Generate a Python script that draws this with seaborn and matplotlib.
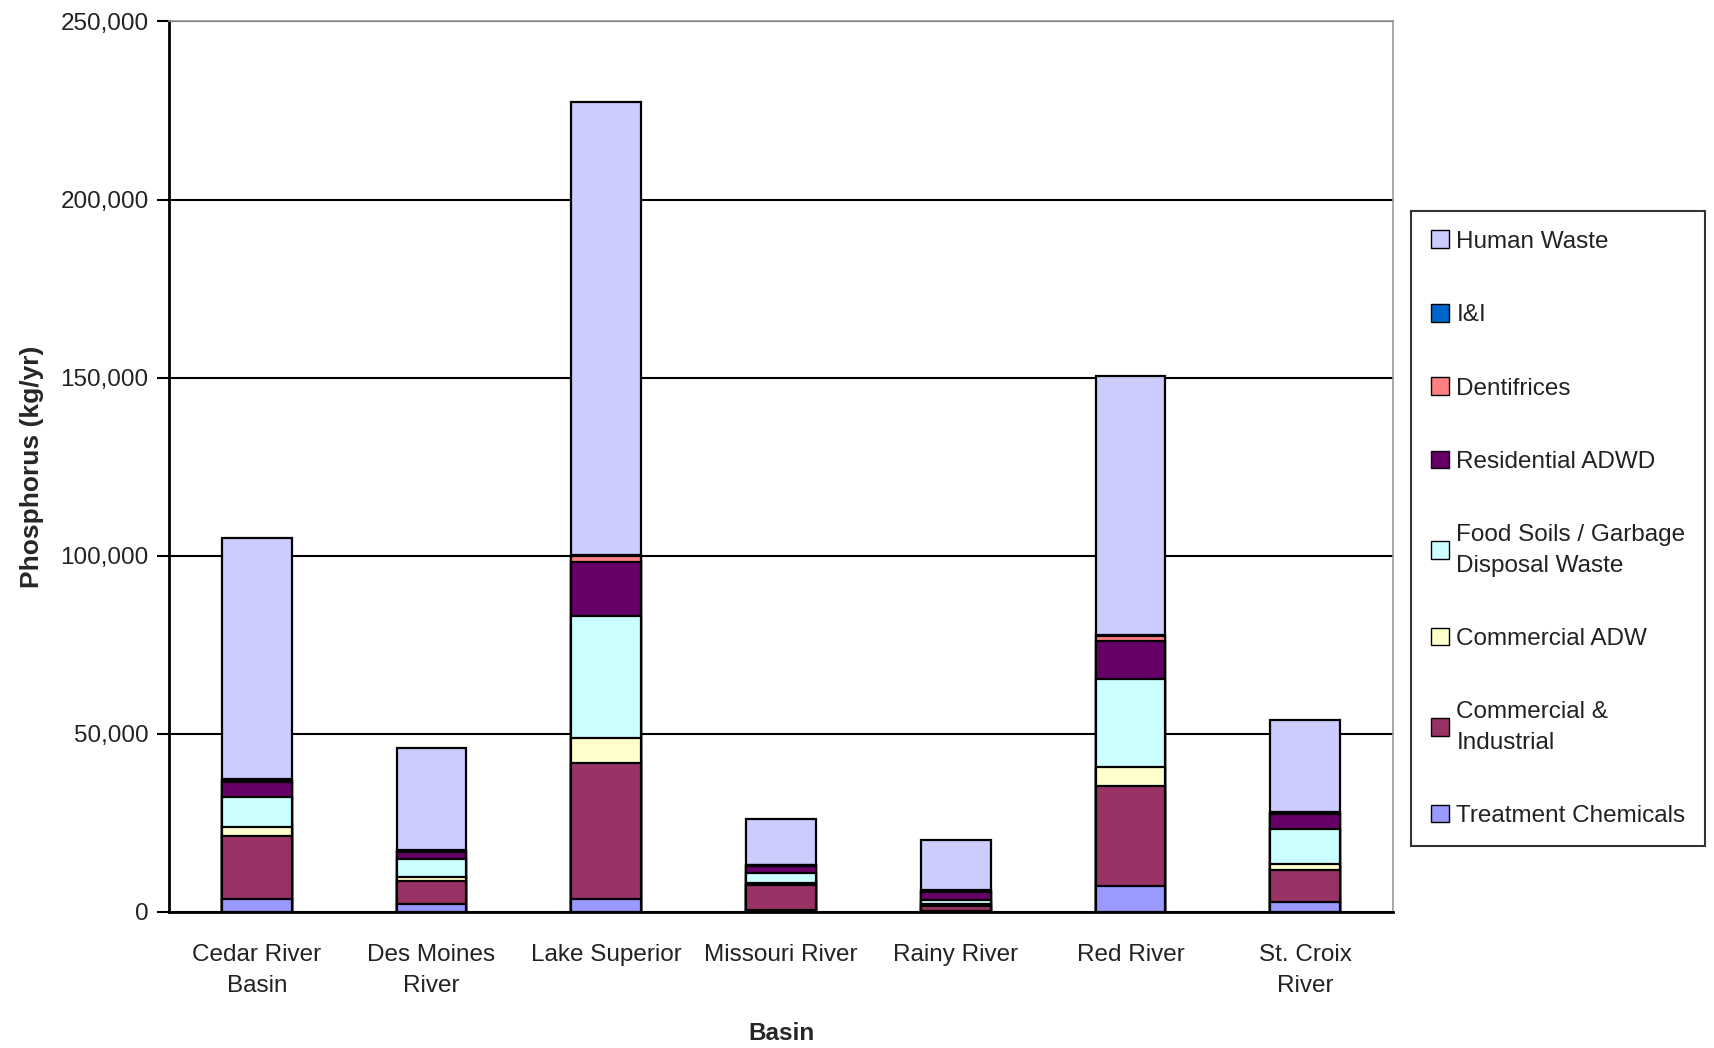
import numpy as np
import pandas as pd
import matplotlib
matplotlib.use("Agg")
import matplotlib.pyplot as plt
from matplotlib.patches import Patch
import seaborn as sns

# Basins (x categories) and their tick labels
basins = ["Cedar River Basin", "Des Moines River", "Lake Superior", "Missouri River",
          "Rainy River", "Red River", "St. Croix River"]
tick_labels = ["Cedar River\nBasin", "Des Moines\nRiver", "Lake Superior", "Missouri River",
               "Rainy River", "Red River", "St. Croix\nRiver"]

# Phosphorus loads by source (kg/yr), listed bottom of stack to top
treatment_chemicals = [3600, 2300, 3700, 500, 400, 7300, 2900]
commercial_industrial = [17800, 6300, 38200, 7200, 1300, 28200, 8800]
commercial_adw = [2500, 1100, 6900, 500, 400, 5100, 1900]
food_soils = [8500, 5300, 34300, 2700, 1400, 24900, 9600]
residential_adwd = [4200, 1800, 15200, 2000, 2200, 10500, 4200]
dentifrices = [300, 300, 1500, 200, 200, 1600, 300]
i_and_i = [300, 400, 300, 200, 300, 200, 300]
human_waste = [67700, 28400, 127200, 12900, 13900, 72700, 26000]

sources = ["Treatment Chemicals", "Commercial &\nIndustrial", "Commercial ADW",
           "Food Soils / Garbage\nDisposal Waste", "Residential ADWD", "Dentifrices",
           "I&I", "Human Waste"]
colors = ["#9999FF", "#993366", "#FFFFCC", "#CCFFFF", "#660066", "#FF8080",
          "#0066CC", "#CCCCFF"]
values = [treatment_chemicals, commercial_industrial, commercial_adw, food_soils,
          residential_adwd, dentifrices, i_and_i, human_waste]

df = pd.DataFrame({"Basin": basins})
for name, vals in zip(sources, values):
    df[name] = vals
cum = df[sources].cumsum(axis=1)

sns.set_theme(style="white")
plt.rcParams["font.family"] = ["Liberation Sans", "DejaVu Sans"]
FS = 17.5

fig, ax = plt.subplots(figsize=(17.15, 10.48), dpi=100)
fig.subplots_adjust(left=0.0988, right=0.812, top=0.9795, bottom=0.1298)

# Stacked bars: draw cumulative totals from the top layer down
for name, col in reversed(list(zip(sources, colors))):
    sns.barplot(x=df["Basin"], y=cum[name], order=basins, color=col, width=0.40,
                edgecolor="black", linewidth=1.6, saturation=1, ax=ax, zorder=3)

ax.set_ylim(0, 250000)
ax.set_xlim(-0.5, 6.5)
ax.set_yticks(np.arange(0, 250001, 50000))
ax.set_yticklabels([f"{v:,}" for v in range(0, 250001, 50000)], fontsize=FS,
                   color="#222222")
ax.yaxis.grid(True, color="black", linewidth=1.5, zorder=0)
ax.set_axisbelow(True)

ax.set_xticks(range(len(basins)))
ax.set_xticklabels(tick_labels, fontsize=FS, linespacing=1.55, color="#222222")
ax.set_xticks(np.arange(-0.5, 7.0, 1.0), minor=True)
ax.tick_params(axis="x", which="major", length=0, pad=23)
ax.tick_params(axis="x", which="minor", length=11, width=1.5, color="black", direction="out")
ax.tick_params(axis="y", which="major", length=9, width=1.5, color="black",
               direction="out", left=True, pad=6)

for side in ["left", "bottom"]:
    ax.spines[side].set_color("black")
    ax.spines[side].set_linewidth(2)
for side in ["top", "right"]:
    ax.spines[side].set_color("#999999")
    ax.spines[side].set_linewidth(1.2)

ax.set_xlabel("Basin", fontsize=FS, fontweight="bold", labelpad=18)
ax.set_ylabel("Phosphorus (kg/yr)", fontsize=FS + 1.5, fontweight="bold", labelpad=12)

handles = [Patch(facecolor=c, edgecolor="black", linewidth=1.0, label=s)
           for s, c in zip(sources, colors)][::-1]
leg = fig.legend(handles=handles, loc="upper left", bbox_to_anchor=(0.823, 0.7987),
                 fontsize=FS, frameon=True, fancybox=False, edgecolor="black",
                 handlelength=0.75, handleheight=0.75, handletextpad=0.3,
                 labelspacing=2.1, borderpad=0.8, borderaxespad=0)
leg.get_frame().set_linewidth(1.5)
for t in leg.get_texts():
    t.set_linespacing(1.5)
    t.set_color("#222222")

fig.savefig("out.png", dpi=100, facecolor="white")
